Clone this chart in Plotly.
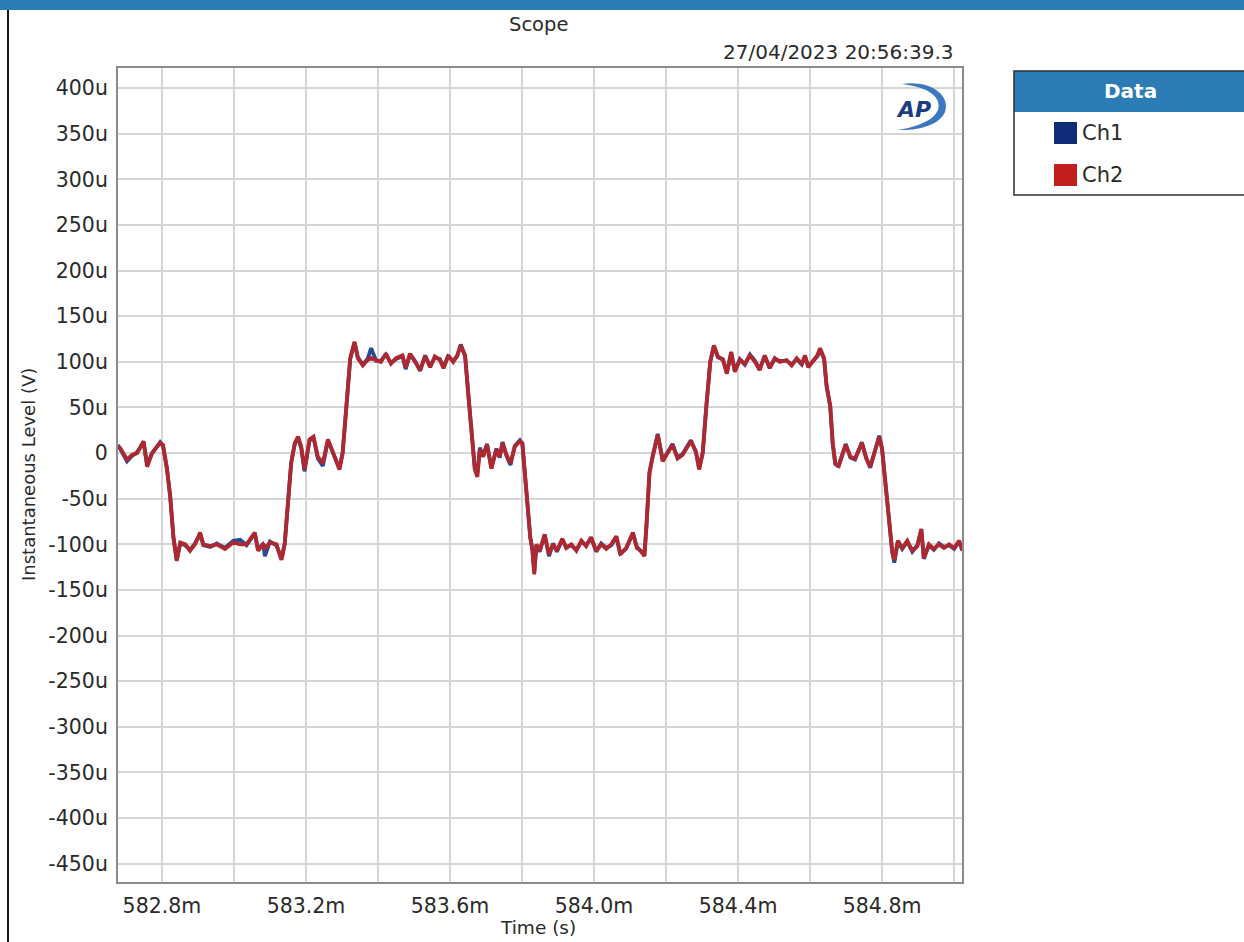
import plotly.graph_objects as go

# ---------------- data ----------------
time_ms = [
    582.678, 582.685, 582.703, 582.717, 582.731, 582.749, 582.759, 582.772, 582.786, 582.795,
    582.803, 582.814, 582.823, 582.832, 582.841, 582.851, 582.865, 582.878, 582.892, 582.906,
    582.915, 582.934, 582.952, 582.975, 582.998, 583.017, 583.035, 583.058, 583.067, 583.081,
    583.086, 583.100, 583.118, 583.132, 583.141, 583.150, 583.159, 583.169, 583.178, 583.187,
    583.196, 583.210, 583.221, 583.233, 583.247, 583.261, 583.275, 583.284, 583.293, 583.302,
    583.312, 583.323, 583.335, 583.344, 583.358, 583.371, 583.381, 583.395, 583.408, 583.422,
    583.436, 583.450, 583.468, 583.477,
    583.489, 583.503, 583.517, 583.531, 583.545, 583.558, 583.572, 583.582, 583.595, 583.609,
    583.620, 583.630, 583.642, 583.651, 583.660, 583.669, 583.676, 583.683, 583.692, 583.703,
    583.715, 583.729, 583.738, 583.746, 583.757, 583.768, 583.780, 583.794, 583.801, 583.810,
    583.817, 583.823, 583.829, 583.834, 583.840, 583.849, 583.863, 583.875, 583.886, 583.897,
    583.912, 583.923, 583.937, 583.951, 583.965, 583.978, 583.992, 584.006, 584.020, 584.034,
    584.048, 584.062, 584.073, 584.089, 584.108, 584.119, 584.131, 584.140, 584.146, 584.154,
    584.163, 584.177, 584.191, 584.205, 584.218, 584.232, 584.246, 584.269, 584.283, 584.292,
    584.302, 584.312, 584.323, 584.333, 584.344, 584.358, 584.369, 584.381, 584.391, 584.405,
    584.419, 584.433, 584.447, 584.460, 584.474, 584.488, 584.502, 584.516, 584.535, 584.549,
    584.563, 584.577, 584.586, 584.595, 584.609, 584.620, 584.628, 584.639, 584.646, 584.656,
    584.663, 584.670, 584.679, 584.688, 584.699, 584.712, 584.725, 584.744, 584.756, 584.767,
    584.781, 584.792, 584.800, 584.809, 584.818, 584.828, 584.834, 584.844, 584.856, 584.870,
    584.884, 584.898, 584.909, 584.916, 584.930, 584.944, 584.958, 584.972, 584.986, 585.000,
    585.014, 585.023,
]

ch2_uV = [
    7, 5, -7, -2, 0, 13, -15, 0, 7, 11,
    9, -18, -48, -92, -118, -98, -100, -107, -100, -87,
    -100, -102, -100, -105, -98, -100, -100, -87, -107, -100,
    -104, -98, -100, -117, -100, -55, -11, 11, 18, 7,
    -18, 15, 18, -4, -11, 15, 0, -7, -18, 0,
    55, 104, 122, 104, 96, 102, 104, 102, 100, 109,
    98, 104, 107, 94,
    109, 100, 91, 106, 94, 106, 102, 93, 107, 100,
    107, 118, 107, 63, 19, -18, -26, 4, -4, 9,
    -17, 4, -4, 11, -2, -11, 7, 13, 11, -30,
    -59, -92, -107, -133, -100, -107, -89, -111, -100, -107,
    -94, -104, -100, -107, -96, -102, -92, -107, -100, -105,
    -100, -91, -111, -104, -87, -104, -107, -113, -78, -22,
    -4, 20, -9, 0, 9, -6, -2, 13, 2, -18,
    0, 52, 100, 118, 106, 102, 87, 111, 89, 102,
    98, 107, 100, 91, 107, 93, 104, 100, 102, 96,
    104, 98, 107, 94, 102, 107, 115, 104, 74, 52,
    11, -11, -15, -4, 9, -4, -6, 11, -6, -15,
    4, 18, 4, -33, -70, -107, -117, -96, -104, -96,
    -107, -102, -83, -115, -100, -105, -100, -104, -100, -104,
    -96, -107,
]

ch1_uV = [
    9, 4, -9, -3, 1, 12, -13, -1, 6, 12,
    8, -17, -47, -93, -117, -99, -101, -106, -99, -89,
    -101, -103, -99, -104, -96, -95, -101, -88, -106, -99,
    -113, -97, -101, -116, -99, -54, -10, 10, 17, 5,
    -20, 14, 17, -6, -14, 14, 1, -8, -17, 1,
    56, 103, 121, 105, 97, 103, 115, 101, 101, 108,
    99, 103, 106, 92,
    108, 101, 90, 107, 95, 105, 103, 94, 106, 101,
    106, 119, 106, 62, 18, -17, -22, 6, -3, 10,
    -16, 5, -5, 12, -3, -13, 8, 14, 10, -31,
    -58, -93, -106, -130, -101, -108, -90, -113, -99, -108,
    -95, -103, -101, -106, -97, -101, -93, -108, -99, -104,
    -101, -92, -110, -105, -88, -103, -108, -112, -77, -21,
    -3, 21, -8, 1, 10, -5, -1, 14, 1, -17,
    1, 51, 101, 117, 105, 103, 88, 110, 90, 103,
    97, 108, 101, 92, 106, 94, 103, 101, 101, 97,
    103, 97, 106, 95, 101, 106, 113, 103, 73, 51,
    10, -12, -14, -3, 10, -5, -7, 12, -5, -16,
    5, 19, 5, -32, -71, -108, -120, -97, -105, -97,
    -108, -101, -84, -116, -101, -106, -99, -103, -101, -105,
    -97, -106,
]

x_tick_vals = [582.8, 583.0, 583.2, 583.4, 583.6, 583.8, 584.0, 584.2, 584.4, 584.6, 584.8, 585.0]
x_tick_text = ["582.8m", "", "583.2m", "", "583.6m", "", "584.0m", "", "584.4m", "", "584.8m", ""]
x_range = [582.678, 585.022]

y_tick_vals = [400, 350, 300, 250, 200, 150, 100, 50, 0, -50, -100, -150, -200, -250, -300, -350, -400, -450]
y_tick_text = ["400u", "350u", "300u", "250u", "200u", "150u", "100u", "50u", "0", "-50u", "-100u",
               "-150u", "-200u", "-250u", "-300u", "-350u", "-400u", "-450u"]
y_range = [-470, 422]

series_names = ["Ch1", "Ch2"]
line_colors = ["#2A4A94", "#B0282F"]
swatch_colors = ["#102C78", "#C41F1F"]

title_text = "Scope"
timestamp_text = "27/04/2023 20:56:39.3"
x_title = "Time (s)"
y_title = "Instantaneous Level (V)"
legend_title = "Data"

# ---------------- layout helpers (pixel -> paper) ----------------
W, H = 1244, 942
PL, PR, PT, PB = 118, 962, 68, 882
FONT = "DejaVu Sans, Verdana, sans-serif"
HEADER_BLUE = "#2B7BB5"
TXT = "#2A2A2A"


def px(x, y):
    return (x - PL) / (PR - PL), (PB - y) / (PB - PT)


def ppath(cmds):
    out = []
    for c in cmds:
        if isinstance(c, str):
            out.append(c)
        else:
            a, b = px(*c)
            out.append(f"{a:.5f},{b:.5f}")
    return " ".join(out)


fig = go.Figure()
for name, vals, col in zip(series_names, [ch1_uV, ch2_uV], line_colors):
    fig.add_trace(go.Scatter(x=time_ms, y=vals, mode="lines", name=name,
                             line=dict(color=col, width=3.8), hoverinfo="skip"))

shapes = []
# top window bar
x0, y0 = px(0, 0)
x1, y1 = px(W, 10)
shapes.append(dict(type="rect", xref="paper", yref="paper", x0=x0, y0=y0, x1=x1, y1=y1,
                   fillcolor=HEADER_BLUE, line=dict(width=0), layer="above"))
# left frame line
a0, b0 = px(8, 10)
a1, b1 = px(8, H + 5)
shapes.append(dict(type="line", xref="paper", yref="paper", x0=a0, y0=b0, x1=a1, y1=b1,
                   line=dict(color="#1A1A1A", width=2)))
# legend header band
hx0, hy0 = px(1014, 71)
hx1, hy1 = px(1260, 112)
shapes.append(dict(type="rect", xref="paper", yref="paper", x0=hx0, y0=hy0, x1=hx1, y1=hy1,
                   fillcolor=HEADER_BLUE, line=dict(width=0)))
# legend border
bx0, by0 = px(1014, 71)
bx1, by1 = px(1260, 195)
shapes.append(dict(type="rect", xref="paper", yref="paper", x0=bx0, y0=by0, x1=bx1, y1=by1,
                   fillcolor="rgba(0,0,0,0)", line=dict(color="#2E2E2E", width=1.5)))
# legend swatches
for i, col in enumerate(swatch_colors):
    top = 122 + i * 42
    sx0, sy0 = px(1054, top)
    sx1, sy1 = px(1077, top + 22)
    shapes.append(dict(type="rect", xref="paper", yref="paper", x0=sx0, y0=sy0, x1=sx1, y1=sy1,
                       fillcolor=col, line=dict(width=0)))
# AP logo arc
arc = ppath(["M", (902, 84), "C", (930, 80), (951, 95), (945, 112), "C", (940, 124), (921, 131), (897, 130),
             "C", (918, 127), (934, 120), (938, 110), "C", (942, 97), (928, 87), (902, 84), "Z"])
shapes.append(dict(type="path", xref="paper", yref="paper", path=arc,
                   fillcolor="#3B78BF", line=dict(width=0)))

ann = []


def add_text(text, x, y, xanchor="center", size=19, color=TXT, bold=False, italic=False, angle=0):
    ax, ay = px(x, y)
    t = text
    if bold:
        t = f"<b>{t}</b>"
    if italic:
        t = f"<i>{t}</i>"
    ann.append(dict(text=t, x=ax, y=ay, xref="paper", yref="paper", xanchor=xanchor, yanchor="middle",
                    showarrow=False, textangle=angle, font=dict(family=FONT, size=size, color=color)))


add_text(title_text, 538, 24, size=19.5)
add_text(timestamp_text, 956, 52, xanchor="right", size=20)
add_text(x_title, 538, 927, size=18.5)
add_text(y_title, 28, 475, size=18, angle=-90)
add_text(legend_title, 1130, 91, size=20, color="white", bold=True)
for i, name in enumerate(series_names):
    add_text(name, 1080, 133 + i * 42, xanchor="left", size=21)
add_text("AP", 913, 109, size=22, color="#1A3C80", bold=True, italic=True)

fig.update_layout(
    width=W, height=H, autosize=False,
    margin=dict(l=PL, r=W - PR, t=PT, b=H - PB, pad=0),
    paper_bgcolor="white", plot_bgcolor="white",
    showlegend=False,
    shapes=shapes, annotations=ann,
    font=dict(family=FONT, color=TXT),
)
fig.update_xaxes(range=x_range, tickmode="array", tickvals=x_tick_vals, ticktext=x_tick_text,
                 showgrid=True, gridcolor="#D6D6D6", gridwidth=1.5, zeroline=False,
                 showline=True, mirror=True, linecolor="#8C8C8C", linewidth=2,
                 ticks="", ticklabelstandoff=4, tickfont=dict(size=20.5, color=TXT))
fig.update_yaxes(range=y_range, tickmode="array", tickvals=y_tick_vals, ticktext=y_tick_text,
                 showgrid=True, gridcolor="#D6D6D6", gridwidth=1.5, zeroline=False,
                 showline=True, mirror=True, linecolor="#8C8C8C", linewidth=2,
                 ticks="", ticklabelstandoff=4, tickfont=dict(size=20.5, color=TXT))

fig.write_html("out.html", config={"displayModeBar": False},
               post_script="document.body.style.margin='0';document.body.style.overflow='hidden';")
